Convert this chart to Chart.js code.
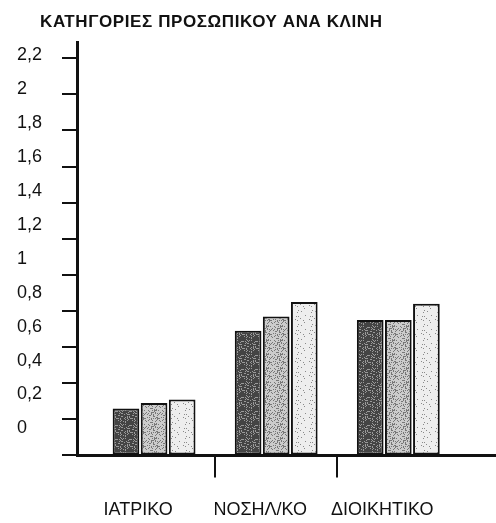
<!DOCTYPE html>
<html>
<head>
<meta charset="utf-8">
<script src="https://cdn.jsdelivr.net/npm/chart.js@4.4.1/dist/chart.umd.min.js"></script>
<style>
  html, body { margin: 0; padding: 0; background: #fff; }
  #wrap { width: 496px; height: 523px; position: relative; }
</style>
</head>
<body>
<div id="wrap"><canvas id="c"></canvas></div>
<script>
// ---- data ----
const TITLE = 'ΚΑΤΗΓΟΡΙΕΣ ΠΡΟΣΩΠΙΚΟΥ ΑΝΑ ΚΛΙΝΗ';
const categories = ['ΙΑΤΡΙΚΟ', 'ΝΟΣΗΛ/ΚΟ', 'ΔΙΟΙΚΗΤΙΚΟ'];
const series1 = [0.26, 0.69, 0.75];
const series2 = [0.29, 0.77, 0.75];
const series3 = [0.31, 0.85, 0.84];
const yTicks = [0, 0.2, 0.4, 0.6, 0.8, 1, 1.2, 1.4, 1.6, 1.8, 2, 2.2];
const yTickLabels = ['0', '0,2', '0,4', '0,6', '0,8', '1', '1,2', '1,4', '1,6', '1,8', '2', '2,2'];

// ---- textured fills (deterministic stipple) ----
function makePattern(base, dot, density, seed) {
  const n = 14;
  const c = document.createElement('canvas');
  c.width = n; c.height = n;
  const g = c.getContext('2d');
  g.fillStyle = base;
  g.fillRect(0, 0, n, n);
  g.fillStyle = dot;
  for (let i = 0; i < n; i++) {
    for (let j = 0; j < n; j++) {
      const h = (Math.imul(i + 1, 73856093) ^ Math.imul(j + 7, 19349663) ^ seed) >>> 0;
      if ((h % 100) < density) g.fillRect(i, j, 1, 1);
    }
  }
  return g.createPattern(c, 'repeat');
}
const fillDark = makePattern('#444444', '#9a9a9a', 22, 12345);
const fillMid = makePattern('#cccccc', '#777777', 24, 67891);
const fillLight = makePattern('#eeeeee', '#8a8a8a', 12, 24680);

const toPoints = (vals) => vals.map((v, i) => ({ x: i, y: v }));

const titlePlugin = {
  id: 'scanTitle',
  afterDraw(chart) {
    const ctx = chart.ctx;
    ctx.save();
    ctx.font = 'bold 17px "Liberation Sans", Arial, sans-serif';
    try { ctx.letterSpacing = '0.6px'; } catch (e) {}
    ctx.fillStyle = '#111';
    ctx.textAlign = 'left';
    ctx.textBaseline = 'alphabetic';
    ctx.fillText(TITLE, 40, 27);
    ctx.restore();
  }
};

const tickFont = { family: '"Liberation Sans", Arial, sans-serif', size: 18 };
const yFont = { family: '"Liberation Sans", Arial, sans-serif', size: 18 };

new Chart(document.getElementById('c'), {
  type: 'bar',
  data: {
    datasets: [
      { label: 'Σειρά 1', data: toPoints(series1), backgroundColor: fillDark },
      { label: 'Σειρά 2', data: toPoints(series2), backgroundColor: fillMid },
      { label: 'Σειρά 3', data: toPoints(series3), backgroundColor: fillLight }
    ]
  },
  options: {
    responsive: true,
    maintainAspectRatio: false,
    animation: false,
    layout: { padding: { left: 17, top: 42, right: 0, bottom: -20 } },
    datasets: {
      bar: {
        borderColor: '#111',
        borderWidth: 2,
        borderSkipped: false,
        categoryPercentage: 1.38,
        barPercentage: 0.95
      }
    },
    plugins: {
      legend: { display: false },
      title: { display: false },
      tooltip: { enabled: false }
    },
    scales: {
      x: {
        type: 'linear',
        position: 'bottom',
        offset: false,
        min: -0.631,
        max: 2.80,
        afterBuildTicks: (scale) => {
          const t = [];
          categories.forEach((c, i) => {
            t.push({ value: i });
            if (i < categories.length - 1) t.push({ value: i + 0.5 });
          });
          scale.ticks = t;
        },
        border: { display: true, color: '#111', width: 3 },
        grid: {
          display: true,
          offset: false,
          drawOnChartArea: false,
          drawTicks: true,
          tickLength: 22,
          lineWidth: 2,
          tickColor: (ctx) => (ctx.tick && Number.isInteger(ctx.tick.value)) ? 'rgba(0,0,0,0)' : '#111'
        },
        ticks: {
          autoSkip: false,
          maxRotation: 0,
          padding: 22,
          labelOffset: -16,
          color: '#111',
          font: tickFont,
          callback: (v) => Number.isInteger(v) ? categories[v] : ''
        }
      },
      y: {
        type: 'linear',
        position: 'left',
        weight: 0,
        min: 0,
        max: 2.29,
        afterBuildTicks: (scale) => { scale.ticks = yTicks.map(v => ({ value: v })); },
        border: { display: true, color: '#111', width: 3 },
        grid: {
          display: true,
          drawOnChartArea: false,
          drawTicks: true,
          tickLength: 15,
          lineWidth: 2,
          tickColor: '#111'
        },
        ticks: { display: false }
      },
      y2: {
        type: 'linear',
        position: 'left',
        weight: 1,
        min: -0.159,
        max: 2.277,
        afterBuildTicks: (scale) => { scale.ticks = yTicks.map(v => ({ value: v })); },
        border: { display: false },
        grid: { display: false, drawTicks: false },
        ticks: {
          crossAlign: 'far',
          padding: 10,
          color: '#111',
          font: yFont,
          callback: (v, i) => yTickLabels[i]
        }
      }
    }
  },
  plugins: [titlePlugin]
});
</script>
</body>
</html>
